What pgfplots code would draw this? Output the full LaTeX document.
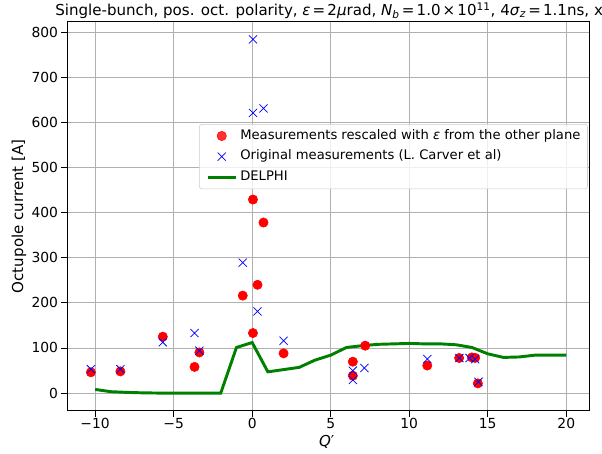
\documentclass[border=0pt]{standalone}
\usepackage{pgfplots}
\pgfplotsset{compat=1.18}
\usepackage{fontspec}
\setmainfont{DejaVu Sans}
\definecolor{mplgreen}{rgb}{0,0.5,0}
\definecolor{gridgray}{HTML}{B0B0B0}
\newcommand{\ms}{\hspace{0.14em}}
\begin{document}
\begin{tikzpicture}
\useasboundingbox (0,0) rectangle (451.5pt,339.75pt);
\clip (0,0) rectangle (451.5pt,339.75pt);
\begin{axis}[
  at={(50.5pt,31.7pt)}, anchor=south west,
  scale only axis, width=391.5pt, height=291.75pt,
  clip mode=individual,
  xmin=-11.77, xmax=21.47, ymin=-39.2, ymax=823.2,
  xtick={-10,-5,0,5,10,15,20},
  xticklabels={−10,−5,0,5,10,15,20},
  ytick={0,100,200,300,400,500,600,700,800},
  /pgf/number format/assume math mode=true,
  tick label style={font=\fontsize{10.4}{12}\selectfont},
  xticklabel style={inner ysep=0.8pt},
  yticklabel style={inner xsep=2.25pt},
  tick align=outside, major tick length=4.5pt,
  tick style={black, line width=0.6pt},
  xtick pos=bottom, ytick pos=left,
  axis line style={black, line width=0.6pt},
  grid=major, major grid style={gridgray, line width=0.6pt},
  xlabel={\textit{Q}′},
  xlabel style={font=\fontsize{11.3}{13}\selectfont, at={(axis description cs:0.497,-0.0907)}, anchor=base, inner sep=0pt},
  ylabel={Octupole current [A]},
  ylabel style={font=\fontsize{11.3}{13}\selectfont, at={(axis description cs:-0.0925,0.5)}, anchor=center, inner sep=0pt},
  legend image code/.code={\draw[mark repeat=2,mark phase=2,#1] plot coordinates {(0pt,0pt) (10.35pt,0pt) (20.7pt,0pt)};},
  legend style={at={(axis description cs:0.997,0.737)}, anchor=north east,
    font=\fontsize{9.85}{11}\selectfont, draw=gray!40, rounded corners=2pt,
    fill=white, fill opacity=0.8, text opacity=1, row sep=6pt, inner xsep=5.3pt, inner ysep=4pt,
    nodes={inner sep=0pt, text height=7.2pt, text depth=2.3pt},
    /tikz/every odd column/.append style={column sep=2.5pt}},
  legend cell align=left,
]
\addplot[mplgreen, line width=2.2pt, forget plot] coordinates {
(-10,8) (-9,3) (-8,1.5) (-7,0.5) (-6,0) (-5,0) (-4,0) (-3,0) (-2,0) (-1,101) (0,112)
(1,47) (2,52) (3,57) (4,73) (5,84) (6,101) (7,105) (8,108) (9,109) (10,110)
(11,109) (12,109) (13,107) (14,101) (15,87) (16,79) (17,80) (18,84) (19,84) (20,84)
};
\addplot[only marks, mark=*, mark size=3.5pt, mark options={fill=red, draw=red}] coordinates {
(-10.27,46) (-8.39,48) (-5.69,125) (-3.67,58) (-3.36,90) (-0.6,216)
(0.05,429) (0.34,240) (0.72,378) (0.05,133) (2.0,88) (6.41,69.5) (6.41,38.4)
(7.2,105) (11.15,61) (13.18,77.7) (13.99,79) (14.2,78) (14.37,21.4)
};
\addlegendentry{Measurements rescaled with \textit{ε} from the other plane}
\addplot[only marks, mark=x, mark size=4.3pt, mark options={draw=blue, line width=0.55pt}] coordinates {
(-10.27,53) (-8.39,53) (-5.69,112.5) (-3.67,133) (-3.36,94) (-0.6,289)
(0.05,784) (0.05,621) (0.72,631) (0.34,181) (2.0,116) (6.41,49.6) (6.41,29)
(7.15,55.5) (11.15,75.5) (13.2,77.7) (13.84,77.7) (14.2,75) (14.41,25)
};
\addlegendentry{Original measurements (L. Carver et al)}
\addlegendimage{mplgreen, line width=2.2pt}
\addlegendentry{DELPHI}
\node[anchor=base west, inner sep=0pt, font=\fontsize{11.3}{13}\selectfont] at (axis description cs:-0.0236,1.0154)
  {Single-bunch, pos. oct. polarity, \textit{ε}\ms=\ms2\textit{μ}rad, \textit{N}\textsubscript{\textit{b}}\ms=\ms1.0\ms×\ms10\textsuperscript{11}, 4\textit{σ}\textsubscript{\textit{z}}\ms=\ms1.1ns, x};
\end{axis}
\end{tikzpicture}
\end{document}
